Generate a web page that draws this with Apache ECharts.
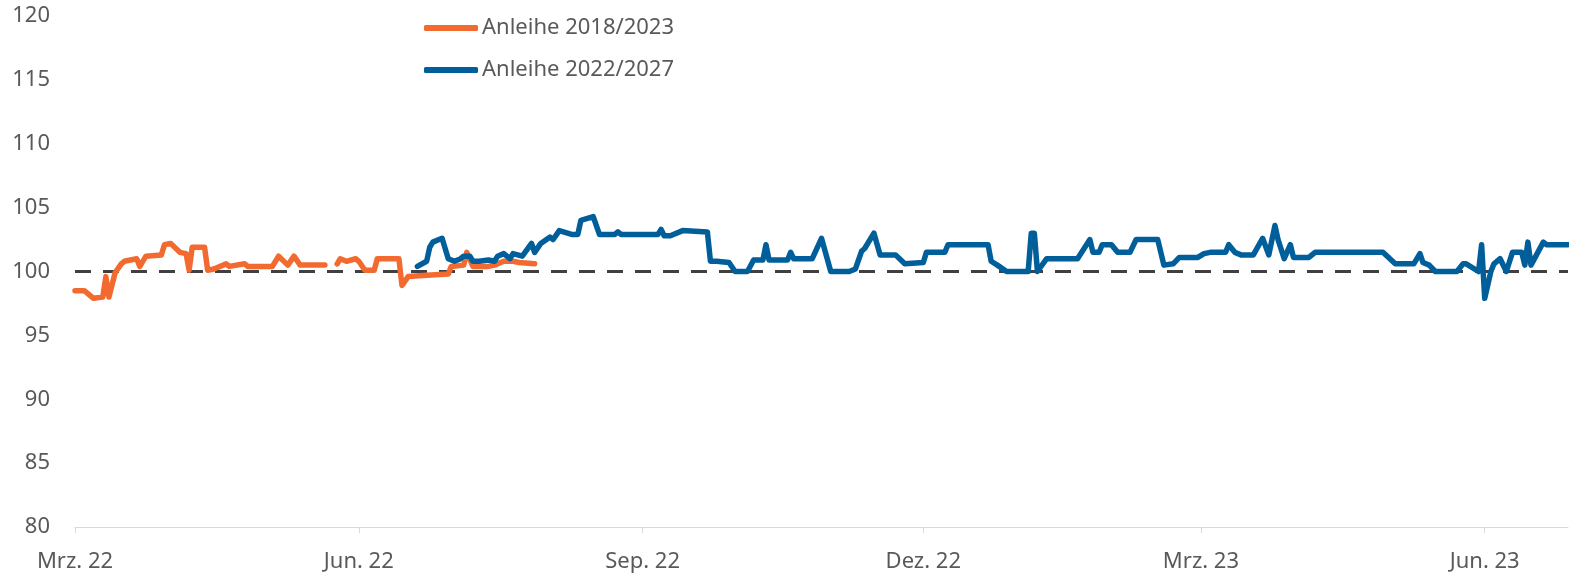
<!DOCTYPE html>
<html>
<head>
  <meta charset="UTF-8">
  <title>Anleihen Kursverlauf</title>
  <script src="https://cdn.jsdelivr.net/npm/echarts@6/dist/echarts.min.js"></script>
  <style>
    html, body { margin: 0; padding: 0; background: #fff; }
  </style>
</head>
<body>
  <div id="main" style="width: 1569px; height: 577px;"></div>

  <script>
    // Tage seit 01.03.2022 und Kurswerte
    const orangeDays = [0, 3, 6, 9, 10, 11, 13, 15, 16, 20, 21, 23, 28, 29, 31, 34, 36, 37, 38, 42, 43, 45, 49, 50, 55, 56, 64, 66, 69, 71, 73, 81, 82,
      85, 86, 88, 91, 92, 94, 97, 98, 105, 106, 108, 114, 121, 122, 126, 127, 129, 134, 136, 139, 142, 144, 149];
    const orangeValues = [98.5, 98.5, 97.9, 98.0, 99.6, 98.0, 99.9, 100.6, 100.8, 101.0, 100.4, 101.2, 101.3, 102.1, 102.2, 101.5, 101.4, 100.1, 101.9, 101.9, 100.1, 100.2, 100.6, 100.4, 100.6, 100.4, 100.4, 101.2, 100.5, 101.2, 100.5, 100.5, null,
      100.6, 101.0, 100.8, 101.0, 100.8, 100.1, 100.1, 101.0, 101.0, 98.9, 99.6, 99.7, 99.8, 100.4, 100.5, 101.5, 100.4, 100.4, 100.5, 100.8, 100.8, 100.7, 100.6];

    const blueDays = [111, 114, 115, 116, 119, 121, 123, 125, 126, 128, 129, 131, 134, 136, 137, 139, 141, 142, 145, 148, 149, 151, 154, 155, 157, 161, 163, 164, 168, 170,
      175, 176, 177, 189, 190, 191, 193, 197, 205, 206, 208, 212, 214, 218, 220, 223, 224, 225, 231, 232, 233, 239, 242, 245, 251, 253, 255, 256, 259, 261,
      266, 269, 275, 276, 282, 283, 296, 297, 299, 302, 309, 310, 311, 312, 315, 325, 329, 330, 332, 333, 336, 338, 342, 344, 351, 353, 356, 358, 364, 366,
      368, 373, 374, 376, 378, 382, 385, 387, 389, 390, 392, 394, 395, 400, 402, 424, 428, 434, 436, 437, 439, 441, 448, 450, 451, 455, 456, 457, 459, 460,
      462, 464, 466, 469, 470, 471, 472, 476, 477, 484];
    const blueValues = [100.4, 100.8, 101.9, 102.3, 102.6, 101.0, 100.8, 101.0, 101.2, 101.2, 100.8, 100.8, 100.9, 100.8, 101.2, 101.4, 101.0, 101.4, 101.2, 102.2, 101.5, 102.2, 102.7, 102.5, 103.2, 102.9, 102.9, 104.0, 104.3, 102.9,
      102.9, 103.1, 102.9, 102.9, 103.3, 102.8, 102.8, 103.2, 103.1, 100.8, 100.8, 100.7, 100.0, 100.0, 100.9, 100.9, 102.1, 100.9, 100.9, 101.5, 101.0, 101.0, 102.6, 100.0, 100.0, 100.2, 101.6, 101.8, 103.0, 101.3,
      101.3, 100.6, 100.7, 101.5, 101.5, 102.1, 102.1, 100.8, 100.5, 100.0, 100.0, 103.0, 103.0, 100.0, 101.0, 101.0, 102.5, 101.5, 101.5, 102.1, 102.1, 101.5, 101.5, 102.5, 102.5, 100.5, 100.6, 101.1, 101.1, 101.4,
      101.5, 101.5, 102.1, 101.5, 101.3, 101.3, 102.6, 101.3, 103.6, 102.5, 101.0, 102.1, 101.1, 101.1, 101.5, 101.5, 100.6, 100.6, 101.4, 100.7, 100.5, 100.0, 100.0, 100.6, 100.6, 100.0, 102.1, 97.9, 100.0, 100.6,
      101.0, 100.0, 101.5, 101.5, 100.5, 102.3, 100.5, 102.3, 102.1, 102.1];

    const monthNames = ['Jan.', 'Feb.', 'Mrz.', 'Apr.', 'Mai', 'Jun.', 'Jul.', 'Aug.', 'Sep.', 'Okt.', 'Nov.', 'Dez.'];
    const startDate = new Date(Date.UTC(2022, 2, 1));
    const totalDays = 484;

    // eine Kategorie pro Tag
    const categories = [];
    for (let i = 0; i <= totalDays; i++) {
      const d = new Date(startDate.getTime() + i * 86400000);
      categories.push(d.toISOString().slice(0, 10));
    }

    const isQuarterStart = (index, value) => {
      const m = +value.slice(5, 7);
      return value.slice(8) === '01' && (m % 3 === 0);
    };

    const option = {
      animation: false,
      textStyle: { fontFamily: 'Noto Sans' },
      legend: {
        orient: 'vertical',
        left: 424,
        top: 15,
        padding: 0,
        itemWidth: 54,
        itemHeight: 6,
        itemGap: 16,
        icon: 'roundRect',
        textStyle: { fontSize: 22, color: '#595959', lineHeight: 26, padding: [0, 0, 0, -1] },
        data: ['Anleihe 2018/2023', 'Anleihe 2022/2027']
      },
      grid: {
        left: 75,
        right: 1,
        top: 16,
        bottom: 50
      },
      xAxis: {
        type: 'category',
        data: categories,
        boundaryGap: false,
        axisLine: { lineStyle: { color: '#d9d9d9', width: 1 } },
        axisTick: { show: true, length: 6, interval: isQuarterStart, lineStyle: { color: '#d9d9d9' } },
        axisLabel: {
          interval: isQuarterStart,
          margin: 24,
          fontSize: 22,
          color: '#595959',
          formatter: (value) => monthNames[+value.slice(5, 7) - 1] + ' ' + value.slice(2, 4)
        },
        splitLine: { show: false }
      },
      yAxis: {
        type: 'value',
        min: 80,
        max: 120,
        interval: 5,
        axisLine: { show: false },
        axisTick: { show: false },
        splitLine: { show: false },
        axisLabel: { fontSize: 22, color: '#595959', margin: 25 }
      },
      series: [
        {
          name: 'Anleihe 2018/2023',
          type: 'line',
          symbol: 'none',
          color: '#f26a2f',
          lineStyle: { width: 5.5, join: 'round', cap: 'round' },
          data: orangeDays.map((d, i) => [d, orangeValues[i]]),
          z: 3
        },
        {
          name: 'Anleihe 2022/2027',
          type: 'line',
          symbol: 'none',
          color: '#005f9a',
          lineStyle: { width: 5.5, join: 'round', cap: 'round' },
          data: blueDays.map((d, i) => [d, blueValues[i]]),
          z: 4,
          markLine: {
            silent: true,
            symbol: 'none',
            label: { show: false },
            lineStyle: { color: '#404040', width: 3, type: [16, 12] },
            data: [{ yAxis: 100 }],
            z: 2
          }
        }
      ]
    };

    const chart = echarts.init(document.getElementById('main'));
    chart.setOption(option);
  </script>
</body>
</html>
